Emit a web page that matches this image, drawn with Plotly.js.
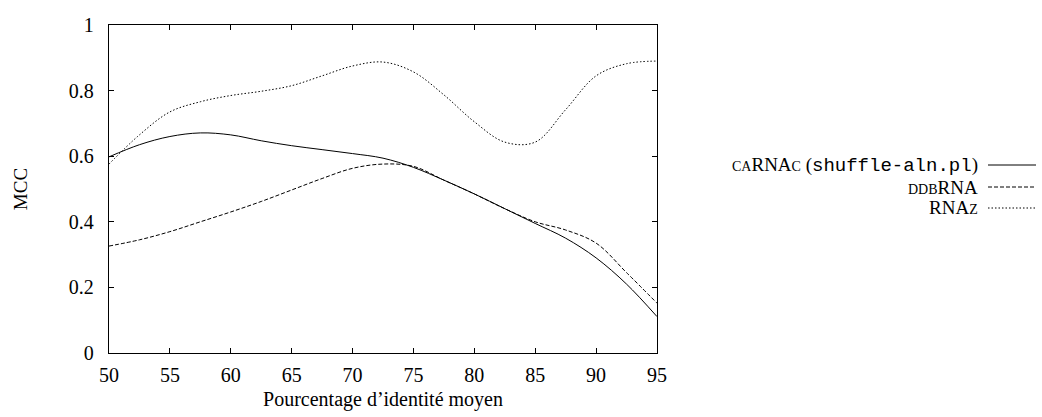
<!DOCTYPE html>
<html>
<head>
<meta charset="utf-8">
<script src="https://cdn.plot.ly/plotly-3.0.1.min.js"></script>
<style>html,body{margin:0;padding:0;background:#fff;}#chart{width:1042px;height:417px;}</style>
</head>
<body>
<div id="chart"></div>
<script>
// Data
const identity = [50, 52.5, 55, 57.5, 60, 62.5, 65, 67.5, 70, 72.5, 75, 77.5, 80, 82.5, 85, 87.5, 90, 92.5, 95];
const carnac   = [0.598, 0.635, 0.660, 0.671, 0.665, 0.647, 0.632, 0.620, 0.608, 0.594, 0.566, 0.527, 0.485, 0.440, 0.395, 0.350, 0.290, 0.210, 0.111];
const ddbrna   = [0.326, 0.345, 0.370, 0.400, 0.430, 0.462, 0.497, 0.532, 0.563, 0.576, 0.569, 0.527, 0.485, 0.440, 0.400, 0.375, 0.335, 0.245, 0.152];
const rnaz     = [0.576, 0.665, 0.735, 0.766, 0.785, 0.798, 0.815, 0.845, 0.875, 0.887, 0.857, 0.787, 0.705, 0.643, 0.643, 0.742, 0.845, 0.882, 0.890];
const xTicks = [50, 55, 60, 65, 70, 75, 80, 85, 90, 95];
const xTickLabels = ['50','55','60','65','70','75','80','85','90','95'];
const yTicks = [0, 0.2, 0.4, 0.6, 0.8, 1];
const yTickLabels = ['0','0.2','0.4','0.6','0.8','1'];
const seriesNames = [
  "<span style='font-size:14px'>CA</span>RNA<span style='font-size:14px'>C</span> (<span style='font-family:Liberation Mono'>shuffle-aln.pl</span>)",
  "<span style='font-size:14px'>DDB</span>RNA",
  "RNA<span style='font-size:14px'>Z</span>"
];
const xTitle = "Pourcentage d’identité moyen";
const yTitle = "MCC";

const FONT = "Liberation Serif, Times New Roman, serif";
const L = 109, R = 657, T = 25, B = 353, W = 1042, H = 417;
const px = p => (p - L) / (R - L);
const py = p => (B - p) / (B - T);

const dashes = ['solid', '4px,2px', '1.5px,2px'];
const series = [carnac, ddbrna, rnaz];
const traces = series.map((s, i) => ({
  x: identity, y: s, type: 'scatter', mode: 'lines', name: seriesNames[i],
  line: {color: '#000', width: 1, dash: dashes[i], shape: 'spline', smoothing: 1},
  showlegend: false, hoverinfo: 'skip'
}));

const rowsY = [165, 187, 208];
const annotations = seriesNames.map((n, i) => ({
  xref: 'paper', yref: 'paper', x: px(980), y: py(rowsY[i]),
  xanchor: 'right', yanchor: 'middle', text: n, showarrow: false,
  font: {family: FONT, size: 19, color: '#000'}
}));
const shapes = dashes.map((d, i) => ({
  type: 'line', xref: 'paper', yref: 'paper',
  x0: px(988), x1: px(1036), y0: py(rowsY[i]), y1: py(rowsY[i]),
  line: {color: '#000', width: 1, dash: d}
}));

const axisCommon = {
  showgrid: false, zeroline: false, showline: true, linecolor: '#000', linewidth: 1.3,
  mirror: 'allticks', ticks: 'inside', ticklen: 5, tickwidth: 1, tickcolor: '#000',
  tickfont: {family: FONT, size: 20, color: '#000'}
};

const layout = {
  width: W, height: H,
  margin: {l: L, r: W - R, t: T, b: H - B},
  paper_bgcolor: '#fff', plot_bgcolor: '#fff',
  font: {family: FONT, color: '#000'},
  xaxis: Object.assign({}, axisCommon, {
    range: [50, 95], tickvals: xTicks, ticktext: xTickLabels, ticklabelstandoff: 4,
    title: {text: xTitle, font: {family: FONT, size: 20, color: '#000'}, standoff: 6}
  }),
  yaxis: Object.assign({}, axisCommon, {
    range: [0, 1], tickvals: yTicks, ticktext: yTickLabels, ticklabelstandoff: 10,
    title: {text: yTitle, font: {family: FONT, size: 19, color: '#000'}, standoff: 36}
  }),
  annotations: annotations,
  shapes: shapes
};

Plotly.newPlot('chart', traces, layout, {staticPlot: true, displayModeBar: false});
</script>
</body>
</html>
